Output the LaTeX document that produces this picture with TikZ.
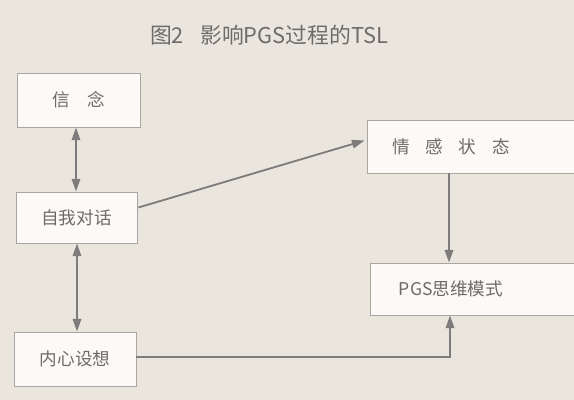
\documentclass[tikz,border=0pt]{standalone}
\usepackage{fontspec}
\setmainfont{Noto Sans CJK SC}
\usetikzlibrary{arrows.meta,calc}
\definecolor{bgc}{HTML}{EAE6DE}
\definecolor{boxfill}{HTML}{FBFAF7}
\definecolor{boxline}{HTML}{A8A6A2}
\definecolor{linec}{HTML}{7E7C7A}
\definecolor{txtc}{HTML}{6E6C6A}
\tikzset{
  box/.style={draw=boxline, line width=0.6pt, fill=boxfill, rectangle, inner sep=0pt,
    font=\fontsize{12.5}{14}\selectfont, text=txtc},
  lbl/.style={font=\fontsize{12.5}{14}\selectfont, text=txtc, inner sep=0pt},
  conn/.style={draw=linec, line width=1.3pt, -{Triangle[length=9pt,width=6pt]}},
  biconn/.style={draw=linec, line width=1.3pt, {Triangle[length=9pt,width=6pt]}-{Triangle[length=9pt,width=6pt]}}
}
\begin{document}
\begin{tikzpicture}[x=0.025cm,y=-0.025cm]
\fill[bgc] (0,0) rectangle (574,400);
\useasboundingbox (0,0) rectangle (574,400);
\clip (0,0) rectangle (574,400);
\node[font=\fontsize{15.5}{17}\selectfont, text=txtc] (title) at (269,35) {图2\hspace{0.75em}影响PGS过程的TSL};
\node[box, minimum width=123*0.025cm, minimum height=54*0.025cm] (belief) at (78.5,100) {信\hspace{1em}念};
\node[box, minimum width=121*0.025cm, minimum height=51*0.025cm] (self) at (76.5,217.5) {自我对话};
\node[box, minimum width=122*0.025cm, minimum height=54*0.025cm] (imag) at (75,359) {内心设想};
\node[box, minimum width=213*0.025cm, minimum height=53*0.025cm] (emo) at (473.5,146.5) {};
\node[lbl] (emotext) at (451,147) {情\hspace{0.9em}感\hspace{0.9em}状\hspace{0.9em}态};
\node[box, minimum width=210*0.025cm, minimum height=52*0.025cm] (pgs) at (475,289) {};
\node[lbl] (pgstext) at (451,289) {PGS思维模式};
\draw[biconn] (belief.south -| 76,0) -- (self.north -| 76,0);
\draw[biconn] (self.south -| 77,0) -- (imag.north -| 77,0);
\draw[conn] ($(self.east)+(1,-10)$) -- ($(emo.west)+(-2,-6)$);
\draw[conn] (emo.south -| 449,0) -- (pgs.north -| 449,0);
\draw[conn] ($(imag.east)+(0,-2)$) -| (pgs.south -| 450,0);
\end{tikzpicture}
\end{document}
